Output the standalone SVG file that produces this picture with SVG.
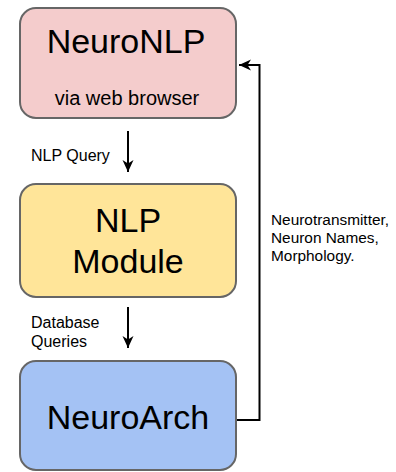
<svg xmlns="http://www.w3.org/2000/svg" width="396" height="472" viewBox="0 0 396 472">
  <style>
    .box { stroke: #666666; stroke-width: 2; }
    .big { font-family: "Liberation Sans", Arial, sans-serif; font-size: 34px; fill: #000; text-anchor: middle; }
    .mid { font-family: "Liberation Sans", Arial, sans-serif; font-size: 20px; fill: #000; text-anchor: middle; }
    .lbl { font-family: "Liberation Sans", Arial, sans-serif; font-size: 16px; fill: #000; }
    .lbr { font-family: "Liberation Sans", Arial, sans-serif; font-size: 15.4px; fill: #000; }
    .conn { fill: none; stroke: #000; stroke-width: 2; }
  </style>
  <defs>
    <marker id="arrow" markerUnits="userSpaceOnUse" markerWidth="14" markerHeight="12" refX="12" refY="5.5" orient="auto">
      <path d="M0,0 L12,5.5 L0,11 L3.5,5.5 Z" fill="#000"/>
    </marker>
  </defs>
  <rect width="396" height="472" fill="#ffffff"/>

  <g id="neuronlp">
    <rect class="box" x="20" y="8" width="216" height="110" rx="16" ry="16" fill="#f4cccc"/>
    <text class="big" x="126" y="53">NeuroNLP</text>
    <text class="mid" x="127" y="105">via web browser</text>
  </g>

  <g id="nlpmodule">
    <rect class="box" x="20" y="184" width="216" height="113" rx="16" ry="16" fill="#ffe599"/>
    <text class="big" x="128" y="232">NLP</text>
    <text class="big" x="128" y="273">Module</text>
  </g>

  <g id="neuroarch">
    <rect class="box" x="20" y="361" width="216" height="109" rx="16" ry="16" fill="#a4c2f4"/>
    <text class="big" x="128" y="429">NeuroArch</text>
  </g>

  <g id="connectors">
    <line class="conn" x1="128" y1="131" x2="128" y2="172" marker-end="url(#arrow)"/>
    <line class="conn" x1="128" y1="307" x2="128" y2="348" marker-end="url(#arrow)"/>
    <path class="conn" d="M237,420 H259.5 V65 H239" marker-end="url(#arrow)"/>
  </g>

  <g id="labels">
    <text class="lbl" x="31" y="161">NLP Query</text>
    <text class="lbl" x="31" y="328">Database</text>
    <text class="lbl" x="31" y="347">Queries</text>
    <text class="lbr" x="271" y="225">Neurotransmitter,</text>
    <text class="lbr" x="271" y="243">Neuron Names,</text>
    <text class="lbr" x="271" y="261">Morphology.</text>
  </g>
</svg>
